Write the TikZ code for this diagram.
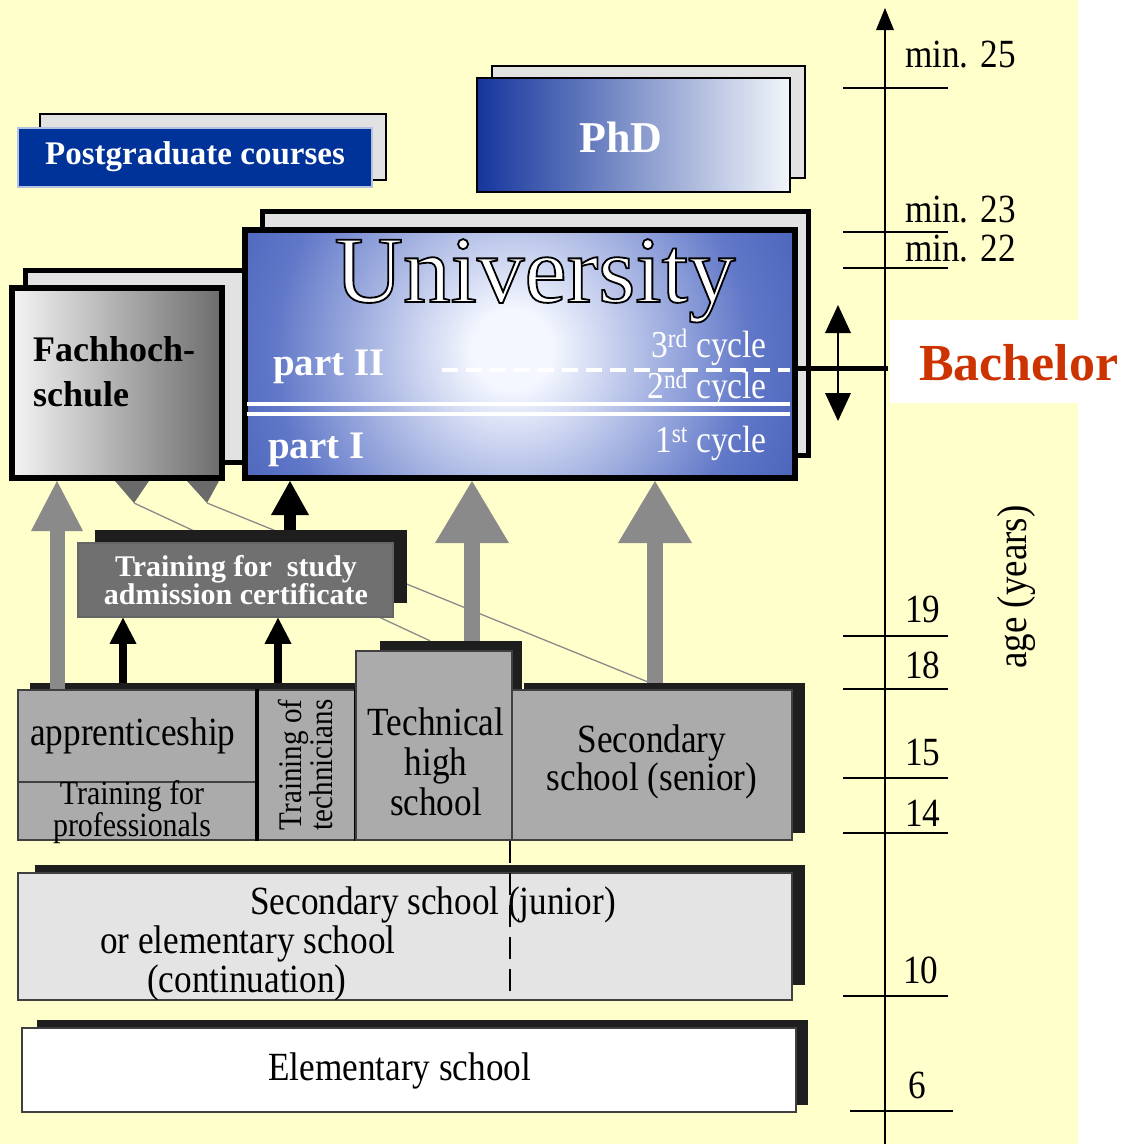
\documentclass[tikz,border=0pt]{standalone}
\usepackage{fontspec}
\setmainfont{Liberation Serif}
\newfontfamily\condfont{Liberation Serif}[FakeStretch=0.88]
\usetikzlibrary{arrows.meta,calc,fit}
\newcommand{\outlinetext}[1]{\special{pdf:literal direct 2 Tr 1.8 w 0 0 0 RG}#1\special{pdf:literal direct 0 Tr}}
\definecolor{bgyellow}{HTML}{FFFFCC}
\definecolor{pgblue}{HTML}{003399}
\definecolor{uniDark}{HTML}{15359C}
\definecolor{uniMid}{HTML}{6178C8}
\definecolor{uniLight}{HTML}{F4F7FF}
\definecolor{phdLight}{HTML}{F2F6FA}
\definecolor{backgrey}{HTML}{E2E2E2}
\definecolor{boxgrey}{HTML}{ABABAB}
\definecolor{juniorgrey}{HTML}{E4E4E4}
\definecolor{shadowc}{HTML}{1E1E1E}
\definecolor{trgrey}{HTML}{707070}
\definecolor{arrgrey}{HTML}{8A8A8A}
\definecolor{tipgrey}{HTML}{6A6A6A}
\definecolor{fhLight}{HTML}{F4F4F4}
\definecolor{fhDark}{HTML}{6C6C6C}
\definecolor{bachred}{HTML}{CC3300}
\pgfdeclareradialshading{unicirc}{\pgfpoint{0bp}{0bp}}{color(0bp)=(uniLight); color(3bp)=(uniLight); color(18bp)=(uniMid); color(37bp)=(uniDark); color(50bp)=(uniDark)}
\pgfdeclarelayer{back}
\pgfdeclarelayer{mid}
\pgfsetlayers{back,mid,main}
\begin{document}
\begin{tikzpicture}[x=1pt,y=-1pt,
  backbox/.style={fill=backgrey,draw=black,line width=2pt,inner sep=0pt},
  shadowbox/.style={fill=shadowc,draw=none,inner sep=0pt},
  greybox/.style={fill=boxgrey,draw=black!75,line width=1.5pt,inner sep=0pt},
  tickline/.style={line width=1.8pt},
  axislab/.style={font=\condfont\fontsize{40}{44}\selectfont,anchor=base west,inner sep=0pt},
  lowtext/.style={font=\condfont\fontsize{40}{40}\selectfont,inner sep=0pt,align=center},
  cyclab/.style={text=white,font=\condfont\fontsize{38}{40}\selectfont,anchor=base east,inner sep=0pt},
  partlab/.style={text=white,font=\bfseries\fontsize{39}{40}\selectfont,anchor=base west,inner sep=0pt},
  boldlab/.style={font=\bfseries,inner sep=0pt,align=center},
  bigarrow/.style={draw=arrgrey,line width=15pt,-{Triangle[width=52pt,length=50pt,line width=0pt]}},
  widearrow/.style={draw=arrgrey,line width=16pt,-{Triangle[width=74pt,length=62pt,line width=0pt]}},
  blackarrow/.style={draw=black,line width=12pt,-{Triangle[width=38pt,length=34pt,line width=0pt]}},
  smallarrow/.style={draw=black,line width=8pt,-{Triangle[width=27pt,length=26pt,line width=0pt]}},
  thinline/.style={draw=arrgrey,line width=1.3pt},
  tiptri/.style={fill=tipgrey}
]
\useasboundingbox (0,0) rectangle (1123,1144);
\begin{pgfonlayer}{back}
\fill[white] (0,0) rectangle (1123,1144);
\fill[bgyellow] (0,0) rectangle (1078,1144);
\fill[white] (890,320) rectangle (1123,403);
\end{pgfonlayer}

% axis
\coordinate (axbot) at (885,1144);
\coordinate (axtop) at (885,8);
\draw[line width=2pt,-{Triangle[width=18pt,length=22pt,line width=0pt]}] (axbot) -- (axtop);
\foreach \yy/\xa/\xb in {88/843/948,232/843/948,268/843/948,636/843/948,689/843/948,778/843/948,833/843/948,996/843/948,1111/850/953}
  \draw[tickline] (\xa,\yy) -- (\xb,\yy);
\node[axislab] (l25) at (905,67) {min. 25};
\node[axislab] (l23) at (905,222) {min. 23};
\node[axislab] (l22) at (905,261) {min. 22};
\node[axislab] (l19) at (905,622) {19};
\node[axislab] (l18) at (905,678) {18};
\node[axislab] (l15) at (905,765) {15};
\node[axislab] (l14) at (905,826) {14};
\node[axislab] (l10) at (903,983) {10};
\node[axislab] (l6) at (908,1098) {6};
\node[rotate=90,font=\condfont\fontsize{42}{44}\selectfont,inner sep=0pt] (age) at (1016,587) {age (years)};

% Bachelor
\node[anchor=base west,text=bachred,font=\bfseries\fontsize{52}{56}\selectfont,inner sep=0pt] (bach) at (919,380) {Bachelor};

% Postgraduate
\node[backbox,fit={(40,114) (386,180)}] (pgS) {};
\node[fill=pgblue,draw=white!70!pgblue,line width=1.5pt,inner sep=0pt,fit={(18,128) (372,187)}] (pg) {};
\node[boldlab,text=white,font=\bfseries\fontsize{33}{36}\selectfont] (pgT) at (195,157) {Postgraduate courses};

% PhD
\node[backbox,fit={(492,66) (805,178)}] (phdS) {};
\node[left color=uniDark,right color=phdLight,draw=black,line width=2pt,inner sep=0pt,fit={(477,78) (790,192)}] (phd) {};
\node[boldlab,text=white,font=\bfseries\fontsize{44}{48}\selectfont] (phdT) at (621,137) {PhD};

% Fachhochschule
\node[backbox,line width=5pt,fit={(25,270) (250,462)}] (fhS) {};
\node[left color=fhLight,right color=fhDark,draw=black,line width=6pt,inner sep=0pt,fit={(12,288) (222,478)}] (fh) {};
\node[anchor=west,align=left,font=\bfseries\fontsize{36}{45}\selectfont,inner sep=0pt] (fhT) at (33,372) {Fachhoch-\\schule};

% University
\node[backbox,line width=5pt,fit={(262,211) (808,455)}] (uniS) {};
\begin{scope}
\clip (245,230) rectangle (795,478);
\fill[uniDark] (245,230) rectangle (795,478);
\shade[shading=unicirc] (512,350) circle (330);
\end{scope}
\node[draw=black,line width=6pt,inner sep=0pt,fit={(245,230) (795,478)}] (uni) {};
\node[anchor=base,text=white,font=\fontsize{95}{100}\selectfont,inner sep=0pt] (uniT) at (535,302)
  {\outlinetext{University}};
\node[partlab] (p2) at (273,375) {part II};
\node[partlab] (p1) at (268,458) {part I};
\node[cyclab] (c3) at (767,357) {3\textsuperscript{rd} cycle};
\node[cyclab] (c2) at (767,398) {2\textsuperscript{nd} cycle};
\node[cyclab] (c1) at (767,452) {1\textsuperscript{st} cycle};
\draw[white,line width=4pt,dash pattern=on 16pt off 8pt] (442,370) -- (790,370);
\draw[white,line width=4pt] (247,404) -- (790,404);
\draw[white,line width=4pt] (247,414) -- (790,414);

% link to Bachelor
\coordinate (bachJ) at (888,368);
\draw[line width=5pt] (uni.east |- 0,368) -- (bachJ);
\coordinate (dAtop) at (838,305);
\coordinate (dAbot) at (838,421);
\draw[line width=2pt,{Triangle[width=26pt,length=28pt,line width=0pt]}-{Triangle[width=26pt,length=28pt,line width=0pt]}] (dAtop) -- (dAbot);

% Training for study admission certificate
\node[shadowbox,fit={(95,530) (407,603)}] (trS) {};
\node[fill=trgrey,draw=black!60,line width=1.5pt,inner sep=0pt,fit={(78,543) (393,617)}] (tr) {};
\node[boldlab,text=white,font=\bfseries\fontsize{30}{27}\selectfont] (trT) at (236,580) {Training for\ \ study\\admission certificate};

% lower boxes
\node[shadowbox,fit={(30,683) (365,833)}] (apprS) {};
\node[shadowbox,fit={(380,641) (522,833)}] (techS) {};
\node[shadowbox,fit={(524,683) (805,833)}] (senS) {};
\node[greybox,fit={(18,690) (258,782)}] (appr) {};
\node[greybox,fit={(18,782) (256,840)}] (prof) {};
\node[greybox,fit={(258,690) (355,840)}] (techn) {};
\draw[line width=4pt] (techn.north west) -- (techn.south west);
\draw[line width=4pt] (techn.north east) -- (techn.south east);
\node[greybox,fit={(356,651) (512,840)}] (tech) {};
\node[greybox,fit={(512,690) (792,840)}] (sen) {};
\node[shadowbox,fit={(35,865) (805,985)}] (junS) {};
\node[fill=juniorgrey,draw=black!75,line width=1.5pt,inner sep=0pt,fit={(18,873) (792,1000)}] (jun) {};
\node[shadowbox,fit={(37,1020) (808,1105)}] (eleS) {};
\node[fill=white,draw=black!75,line width=1.5pt,inner sep=0pt,fit={(22,1028) (796,1112)}] (ele) {};
\draw[line width=1.5pt,dash pattern=on 22pt off 10pt] (510,0 |- tech.south) -- (510,0 |- jun.south);

% texts in lower boxes
\node[lowtext,anchor=base west] (apprT) at (30,745) {apprenticeship};
\node[lowtext,font=\condfont\fontsize{34}{26}\selectfont] (profT) at (132,812) {Training for\\professionals};
\node[lowtext,rotate=90,font=\condfont\fontsize{33}{27}\selectfont] (technT) at (306,765) {Training of\\technicians};
\node[lowtext] (techT) at (436,762) {Technical\\high\\school};
\node[lowtext,font=\condfont\fontsize{40}{38}\selectfont] (senT) at (652,762) {Secondary\\school (senior)};
\node[lowtext,anchor=base west] (junT1) at (250,914) {Secondary school (junior)};
\node[lowtext,anchor=base west] (junT2) at (100,953) {or elementary school};
\node[lowtext,anchor=base west] (junT3) at (147,992) {(continuation)};
\node[lowtext,anchor=base west] (eleT) at (268,1080) {Elementary school};

% thin grey links with triangle heads under the Fachhochschule
\coordinate (tipA) at (134,503);
\coordinate (tipB) at (207,503);
\begin{pgfonlayer}{mid}
\draw[thinline] (430,0 |- techS.north) -- (tipA);
\draw[thinline] (650,0 |- senS.north) -- (tipB);
\end{pgfonlayer}
\fill[tiptri] (tipA) -- (115,0 |- fh.south) -- (149,0 |- fh.south) -- cycle;
\fill[tiptri] (tipB) -- (187,0 |- fh.south) -- (219,0 |- fh.south) -- cycle;

% thick arrows
\draw[bigarrow] (57,0 |- appr.north) -- (57,0 |- fh.south);
\draw[widearrow] (472,0 |- techS.north) -- (472,0 |- uni.south);
\draw[widearrow] (655,0 |- senS.north) -- (655,0 |- uni.south);
\draw[blackarrow] (290,0 |- trS.north) -- (290,0 |- uni.south);
\draw[smallarrow] (123,0 |- apprS.north) -- (123,0 |- tr.south);
\draw[smallarrow] (278,0 |- apprS.north) -- (278,0 |- tr.south);
\end{tikzpicture}
\end{document}
